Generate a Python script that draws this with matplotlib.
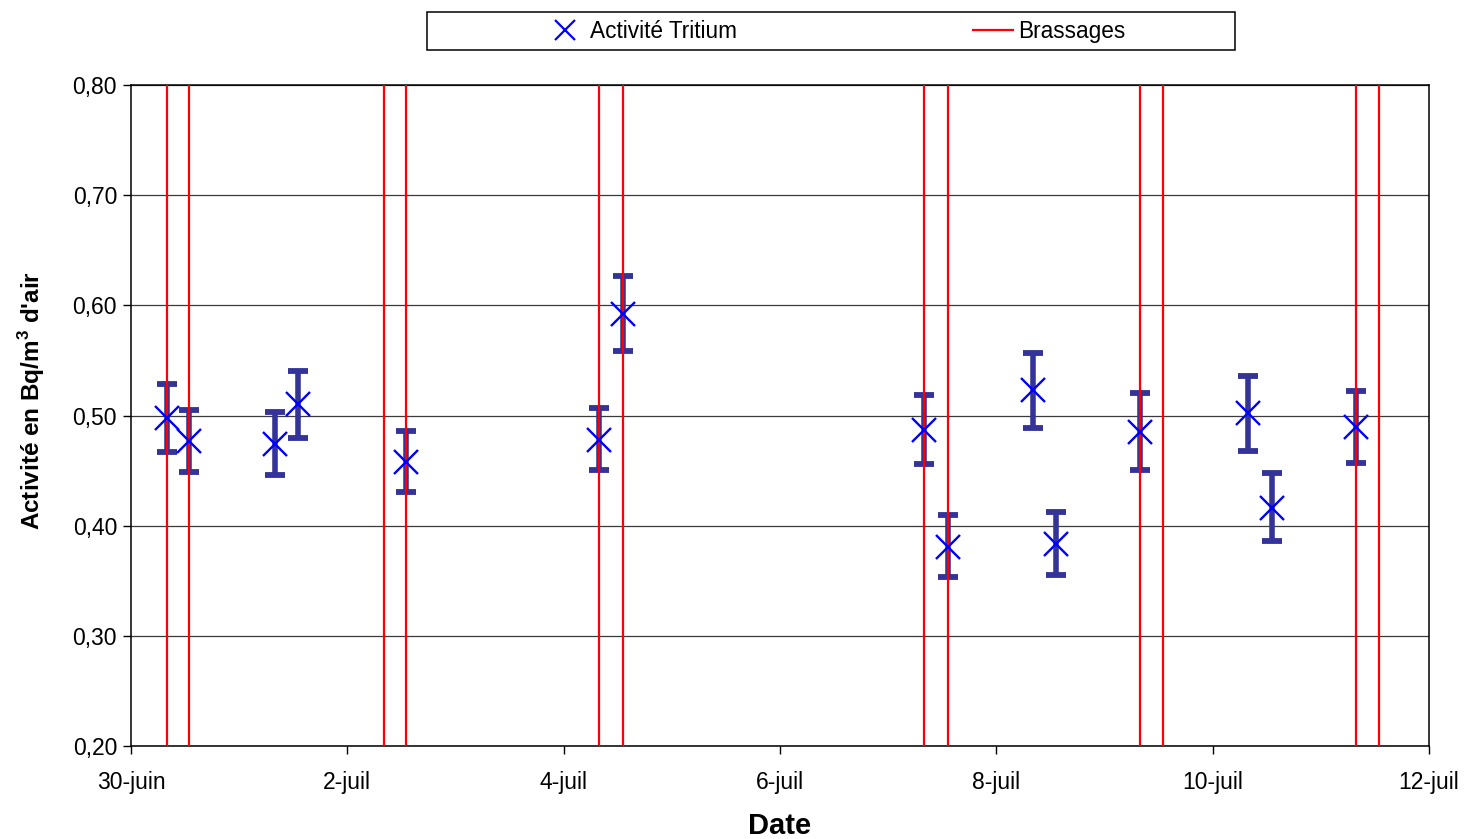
import matplotlib
matplotlib.use("Agg")
import matplotlib.pyplot as plt
from matplotlib.patches import Rectangle
from matplotlib.lines import Line2D
from matplotlib.ticker import FuncFormatter

plt.rcParams['font.family'] = ['Liberation Sans', 'DejaVu Sans']
plt.rcParams['mathtext.fontset'] = 'custom'
plt.rcParams['mathtext.rm'] = 'Liberation Sans'
plt.rcParams['mathtext.bf'] = 'Liberation Sans:bold'

# days counted from 30-juin 00:00
sample_days = [0.33, 0.54, 1.33, 1.54, 2.54, 4.33, 4.55, 7.33, 7.55,
               8.34, 8.55, 9.33, 10.33, 10.55, 11.33]
activity = [0.498, 0.477, 0.474, 0.510, 0.458, 0.478, 0.592, 0.487, 0.381,
            0.523, 0.383, 0.485, 0.502, 0.416, 0.490]
err_low = [0.031, 0.028, 0.028, 0.030, 0.027, 0.027, 0.033, 0.031, 0.028,
           0.034, 0.028, 0.034, 0.034, 0.030, 0.033]
err_high = [0.031, 0.028, 0.029, 0.030, 0.028, 0.029, 0.035, 0.032, 0.029,
            0.034, 0.029, 0.035, 0.034, 0.032, 0.032]
brassages = [0.33, 0.54, 2.34, 2.54, 4.33, 4.55, 7.33, 7.55, 9.33, 9.54, 11.33, 11.54]

tick_days = [0, 2, 4, 6, 8, 10, 12]
tick_labels = ['30-juin', '2-juil', '4-juil', '6-juil', '8-juil', '10-juil', '12-juil']

fig = plt.figure(figsize=(14.65, 8.39), dpi=100)
ax = fig.add_axes([0.0894, 0.1108, 0.886, 0.7879])

ax.errorbar(sample_days, activity, yerr=[err_low, err_high], fmt='none',
            ecolor='#333399', elinewidth=4, capsize=7, capthick=4.2, zorder=2)
for d in brassages:
    ax.axvline(d, color='#ff0000', lw=1.6, zorder=3)
ax.plot(sample_days, activity, 'x', color='#0000ff', ms=17, mew=1.7, zorder=4)

ax.set_xlim(0, 12)
ax.set_ylim(0.2, 0.8)
ax.set_xticks(tick_days)
ax.set_xticklabels(tick_labels)
ax.set_yticks([0.2, 0.3, 0.4, 0.5, 0.6, 0.7, 0.8])
ax.yaxis.set_major_formatter(FuncFormatter(lambda v, p: f"{v:.2f}".replace('.', ',')))
ax.tick_params(axis='both', direction='out', labelsize=16.5, length=6, width=1)
ax.tick_params(axis='x', pad=12)
ax.tick_params(axis='y', pad=4)
ax.grid(axis='y', color='#3a3a3a', lw=0.9, zorder=1)
ax.set_axisbelow(True)
for s in ax.spines.values():
    s.set_color('black')
    s.set_linewidth(1.1)

ax.set_xlabel('Date', fontsize=21, fontweight='bold', labelpad=13)
ax.set_ylabel(r"Activité en Bq/m$^\mathbf{3}$ d'air", fontsize=17.5, fontweight='bold')
ax.yaxis.set_label_coords(-0.065, 0.523)

# legend box at the top
fig.patches.append(Rectangle((0.2915, 0.9404), 0.5515, 0.0453, transform=fig.transFigure,
                             fill=False, edgecolor='black', lw=1.1))
handles = [Line2D([], [], ls='none', marker='x', color='#0000ff', ms=14, mew=1.6),
           Line2D([], [], color='#ff0000', lw=1.6)]
fig.legend(handles, ['Activité Tritium', 'Brassages'], loc='center',
           bbox_to_anchor=(0.57, 0.963), bbox_transform=fig.transFigure,
           ncol=2, frameon=False, fontsize=16.3, handlelength=1.77,
           handletextpad=0.22, columnspacing=10.4)

fig.savefig('out.png', dpi=100)
